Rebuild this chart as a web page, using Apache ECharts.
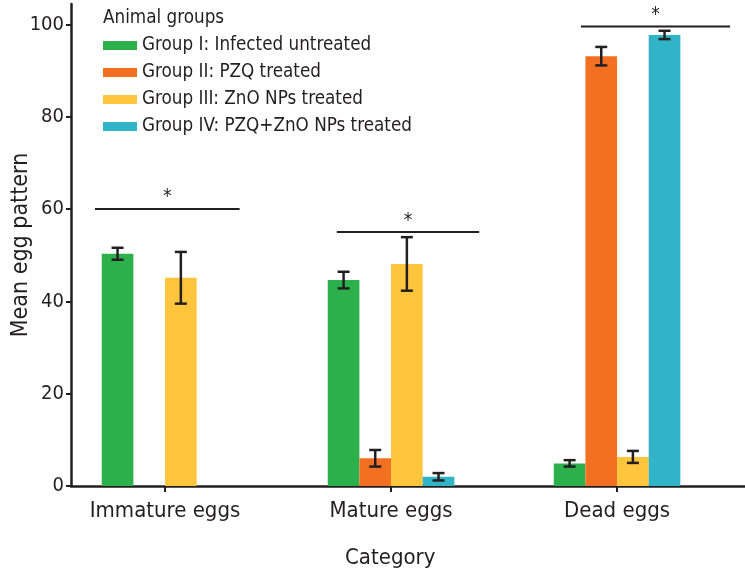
<!DOCTYPE html>
<html>
<head>
<meta charset="utf-8">
<script src="https://cdn.jsdelivr.net/npm/echarts@6/dist/echarts.min.js"></script>
<style>
  html, body { margin: 0; padding: 0; background: #fff; }
  #main { width: 745px; height: 574px; }
</style>
</head>
<body>
<div id="main"></div>
<script>
const categories = ["Immature eggs", "Mature eggs", "Dead eggs"];
const groupNames = [
  "Group I: Infected untreated",
  "Group II: PZQ treated",
  "Group III: ZnO NPs treated",
  "Group IV: PZQ+ZnO NPs treated",
];
// mean and error per category (null = not measured)
const g1Mean = [50.3, 44.6, 4.9];
const g1Err = [1.3, 1.8, 0.7];
const g2Mean = [null, 6.0, 93.1];
const g2Err = [null, 1.8, 2.0];
const g3Mean = [45.1, 48.1, 6.3];
const g3Err = [5.6, 5.8, 1.3];
const g4Mean = [null, 2.0, 97.7];
const g4Err = [null, 0.8, 0.9];
const yTicks = [0, 20, 40, 60, 80, 100];
// significance brackets (x in category units, level in y units)
const sigFrom = [-0.31, -0.24, -0.16];
const sigTo = [0.33, 0.39, 0.5];
const sigLevel = [60, 55, 99.5];

const colors = ["#2cb04c", "#f37022", "#fec53d", "#31b3c8"];
const ink = "#231f20";
const font = "'DejaVu Sans Condensed', 'Liberation Sans Narrow', sans-serif";
const barW = 0.14;
const slotOffset = [-1.5, -0.5, 0.5, 1.5];

const means = [g1Mean, g2Mean, g3Mean, g4Mean];
const errs = [g1Err, g2Err, g3Err, g4Err];

const makeData = (m, e) => {
  const out = [];
  m.forEach((v, i) => {
    if (v !== null) out.push([i, v, e[i]]);
  });
  return out;
};

const barRender = (slot) => (params, api) => {
  const c = api.value(0);
  const v = api.value(1);
  const e = api.value(2);
  const x = c + slotOffset[slot] * barW;
  const tl = api.coord([x - barW / 2, v]);
  const br = api.coord([x + barW / 2, 0]);
  const hi = api.coord([x, v + e]);
  const lo = api.coord([x, v - e]);
  const cap = 6;
  const ls = { stroke: ink, lineWidth: 2.5 };
  return {
    type: "group",
    children: [
      {
        type: "rect",
        shape: { x: tl[0], y: tl[1], width: br[0] - tl[0], height: br[1] - tl[1] },
        style: { fill: colors[slot] },
      },
      { type: "line", z2: 5, shape: { x1: hi[0], y1: hi[1], x2: lo[0], y2: lo[1] }, style: ls },
      { type: "line", z2: 5, shape: { x1: hi[0] - cap, y1: hi[1], x2: hi[0] + cap, y2: hi[1] }, style: ls },
      { type: "line", z2: 5, shape: { x1: lo[0] - cap, y1: lo[1], x2: lo[0] + cap, y2: lo[1] }, style: ls },
    ],
  };
};

const series = groupNames.map((name, k) => ({
  name: name,
  type: "custom",
  itemStyle: { color: colors[k] },
  encode: { x: 0, y: 1 },
  data: makeData(means[k], errs[k]),
  renderItem: barRender(k),
  z: 2,
}));

series.push({
  type: "custom",
  name: "sig",
  silent: true,
  z: 3,
  data: categories.map((c, i) => [i, sigFrom[i], sigTo[i], sigLevel[i]]),
  renderItem: (params, api) => {
    const c = api.value(0);
    const a = api.coord([c + api.value(1), api.value(3)]);
    const b = api.coord([c + api.value(2), api.value(3)]);
    return {
      type: "group",
      children: [
        { type: "line", shape: { x1: a[0], y1: a[1], x2: b[0], y2: b[1] }, style: { stroke: ink, lineWidth: 2 } },
        {
          type: "text",
          style: {
            text: "*",
            x: (a[0] + b[0]) / 2,
            y: a[1] - 2,
            align: "center",
            verticalAlign: "bottom",
            fill: ink,
            font: "19px " + font,
          },
        },
      ],
    };
  },
});

const chart = echarts.init(document.getElementById("main"));
chart.setOption({
  animation: false,
  textStyle: { fontFamily: font, color: ink },
  title: {
    text: "Animal groups",
    left: 98,
    top: 4,
    textStyle: { fontSize: 18.7, fontWeight: "normal", color: ink, fontFamily: font },
  },
  legend: {
    orient: "vertical",
    left: 98,
    top: 31,
    itemWidth: 34,
    itemHeight: 9,
    itemGap: 8,
    icon: "rect",
    data: groupNames,
    textStyle: { fontSize: 18.7, color: ink, fontFamily: font },
  },
  grid: { left: 71, right: 0, top: 4, bottom: 88, outerBoundsMode: "none", containLabel: false },
  xAxis: {
    type: "value",
    min: -0.416,
    max: 2.566,
    splitLine: { show: false },
    axisLine: { show: true, onZero: false, lineStyle: { color: ink, width: 2.5 } },
    axisTick: { show: true, customValues: [0, 1, 2], length: 6, lineStyle: { color: ink, width: 2 } },
    axisLabel: {
      customValues: [0, 1, 2],
      formatter: (v) => categories[Math.round(v)],
      fontSize: 22,
      color: ink,
      margin: 14,
    },
  },
  yAxis: {
    type: "value",
    min: 0,
    max: 104.4,
    name: "Mean egg pattern",
    nameLocation: "middle",
    nameGap: 38,
    nameMoveOverlap: false,
    nameTextStyle: { fontSize: 23, color: ink },
    splitLine: { show: false },
    axisLine: { show: true, onZero: false, lineStyle: { color: ink, width: 2.5 } },
    axisTick: { show: true, customValues: yTicks, length: 5, lineStyle: { color: ink, width: 2 } },
    axisLabel: { customValues: yTicks, fontSize: 20, color: ink, margin: 7 },
  },
  graphic: [
    {
      type: "text",
      left: 345,
      top: 547,
      style: { text: "Category", font: "22px " + font, fill: ink },
    },
  ],
  series: series,
});
</script>
</body>
</html>
